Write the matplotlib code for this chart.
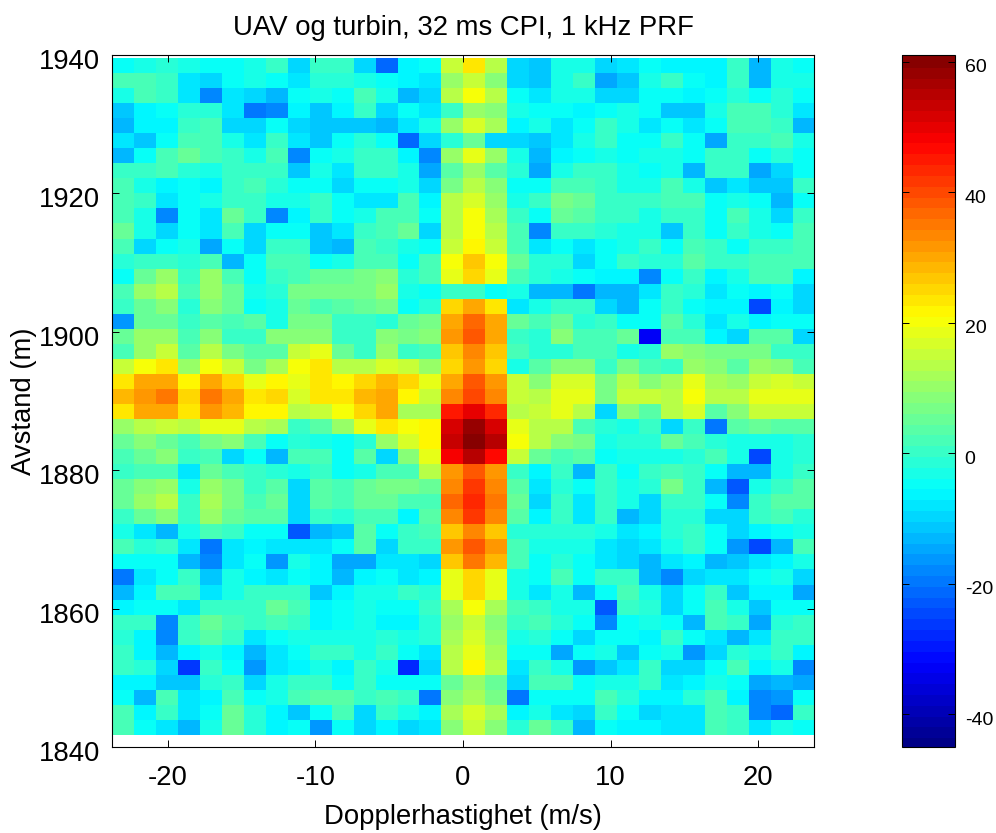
import numpy as np
import matplotlib
matplotlib.use("Agg")
import matplotlib.pyplot as plt
from matplotlib.colors import ListedColormap
from matplotlib.transforms import ScaledTranslation

plt.rcParams["font.family"] = ["Liberation Sans", "DejaVu Sans"]
plt.rcParams["axes.unicode_minus"] = False

# ---------------------------------------------
# Data (dB), top row first
# ---------------------------------------------
vel_limits = [-23.8, 23.8]
range_limits = [1841.7, 1939.4]
x_ticks = [-20, -10, 0, 10, 20]
y_ticks = [1840, 1860, 1880, 1900, 1920, 1940]
cbar_ticks = [-40, -20, 0, 20, 40, 60]

power = [
    [-4, -3, -1, -2, -4, -5, -2, 0, -10, 1, 1, -9, -21, -6, -5, 15, 24, 14, -10, -11, -2, -2, -10, -7, -5, -6, -6, -6, 1, -13, -2, -4],
    [2, 3, 0, -7, -9, -5, -2, -4, -8, -1, -1, -2, -4, -6, -7, 10, 15, 8, -10, -11, -2, 0, -15, -11, -2, 0, -4, -6, 0, -13, -3, -2],
    [-2, 2, 0, -8, -18, -7, -10, -13, -4, -2, -4, 2, -2, -13, -10, 14, 21, 14, -4, -8, -2, -2, -10, -10, -5, -5, -6, -5, -1, -4, -1, -4],
    [-11, -6, -5, -1, -1, -7, -20, -18, -6, -11, -6, 0, -9, -4, -7, 1, 11, 8, -2, -5, -5, -6, -5, -2, -5, -11, -11, -2, 3, 3, -1, -7],
    [-13, -6, -6, 0, 2, -9, -9, -5, -9, -11, -11, -11, -13, -7, -2, 10, 17, 12, -6, -2, -7, -4, 0, -2, -8, -5, -7, -5, 3, 3, 0, -13],
    [-7, -11, -4, 3, 3, -2, -8, 0, -8, -11, -5, -1, -4, -21, -9, -1, 6, -9, -9, -11, -8, -2, 1, -4, -4, 0, -4, -15, 1, 1, 3, -2],
    [-13, -5, 3, 5, 3, 1, -2, 2, -18, -5, -3, 1, 0, -6, -18, 11, 19, 11, -2, -12, -6, -4, -3, -4, -2, -2, -5, 0, 1, -4, -1, -4],
    [1, 1, 2, -1, -2, 1, 1, 1, -11, -2, -7, 0, 1, -2, -15, 4, 11, 4, -1, -15, -2, 0, 0, -2, -4, -2, -12, 0, 0, -15, -9, -5],
    [3, -2, -6, -5, -6, 1, 2, -1, -5, -5, -9, -5, -5, -2, -9, 7, 14, 8, -5, -5, 3, 3, 0, -2, -2, 2, -2, -11, -7, -11, -11, 1],
    [3, 0, -7, -5, -2, 1, 1, -3, -3, 0, -5, -7, -7, 2, -6, 13, 17, 11, -2, 0, 7, 5, 1, 1, 1, 3, 2, -5, -2, -4, -12, -5],
    [3, -2, -18, -5, -7, 6, 0, -18, -6, 0, -5, -3, 2, 2, -5, 14, 20, 12, 1, -5, 6, 4, 1, 0, -2, 1, 1, -5, 3, -2, -10, 0],
    [5, -2, -9, -5, -7, 3, -9, -5, -5, -11, -8, 0, 3, 5, -9, 14, 21, 14, 2, -18, 0, 0, -1, -2, -2, -11, 0, -5, 0, -2, -5, 3],
    [3, -9, -5, -2, -15, -5, -10, 1, 1, -11, -13, 2, 0, -2, -5, 15, 22, 15, 2, -7, -5, -7, -5, -2, 0, -5, 2, 0, -4, 0, 1, 3],
    [-1, 0, 0, -1, 3, -12, -5, 2, 2, -5, -2, 3, 2, -4, 3, 21, 27, 21, 5, -1, -1, -9, -5, 0, -1, -1, 4, 0, 0, 3, 3, 2],
    [-5, 6, 10, 0, 10, 2, -5, 1, 2, 5, 5, 7, 8, -1, 2, 19, 25, 19, 2, -1, -2, -4, -6, -6, -18, -5, 1, -6, -2, 2, 2, -6],
    [3, 10, 13, 2, 11, 6, -2, -1, 7, 7, 7, 7, 10, -2, -5, 0, 0, -5, -2, -13, -13, -20, -12, -12, -8, 0, -1, -8, -5, -6, -5, -9],
    [0, 6, 9, -1, 8, 5, -5, -3, 5, 2, 4, 5, 7, -5, -1, 25, 31, 24, -8, -2, 1, 0, -10, -12, -5, 1, -5, -6, -6, -25, -6, -10],
    [-16, 5, 5, 0, 4, 2, 4, -3, 7, 7, 1, 0, -1, 6, 7, 30, 37, 30, 5, 3, 5, -1, 1, -5, -5, 4, -1, -7, -2, -6, -5, -5],
    [5, 11, 11, 3, 8, 0, 1, 9, 8, 9, 0, 0, 9, 7, 8, 32, 38, 31, 1, -1, 8, 3, 3, 5, -32, 2, 2, -6, -9, 4, 4, -9],
    [2, 10, 15, 4, 13, 7, 4, 4, 16, 18, 5, 0, 11, 1, 3, 27, 34, 27, 2, -1, -1, 2, 2, -2, -1, 10, 8, 7, 7, 7, 0, 0],
    [15, 21, 24, 10, 21, 15, 7, 12, 21, 23, 14, 14, 17, 16, 11, 25, 32, 25, -2, 4, 8, 8, 0, 7, 2, 1, 11, 8, 4, 10, 9, 3],
    [24, 31, 31, 22, 31, 26, 19, 22, 18, 24, 22, 25, 28, 25, 19, 31, 38, 32, 15, 8, 17, 17, 7, 14, 8, 12, 18, 12, 10, 16, 17, 15],
    [28, 32, 35, 26, 35, 30, 24, 25, 17, 24, 24, 28, 31, 22, 16, 34, 40, 34, 16, 14, 19, 19, 7, 15, 15, 13, 21, 13, 13, 19, 19, 19],
    [24, 30, 30, 24, 32, 28, 22, 22, 13, 15, 20, 25, 30, 12, 12, 46, 51, 44, 13, 15, 18, 14, -9, 8, 4, 13, 17, 4, 9, 15, 15, 15],
    [11, 14, 16, 13, 18, 18, 14, 12, 1, 4, 11, 18, 23, 21, 22, 52, 59, 52, 19, 13, 13, 2, -1, -3, 0, -10, 0, -20, 4, 6, 4, 4],
    [5, 9, 6, 3, 7, 9, 3, -5, -1, -2, -4, -1, 11, 17, 22, 54, 61, 55, 21, 13, 9, 7, -2, -1, -1, 5, 2, -1, -2, -3, -3, -1],
    [2, 5, 9, 0, 3, -9, -5, -12, 2, 2, -5, 4, -9, 8, 18, 48, 55, 47, 15, 6, 3, 4, -5, -2, -3, -3, -1, 3, -2, -25, -3, -1],
    [1, 3, 3, -7, 5, 3, 1, -1, -3, 1, -5, -3, 2, 2, 13, 32, 38, 32, 1, -6, 0, -13, 0, -5, 0, 3, 1, -5, -13, -12, -2, 1],
    [6, 8, 11, -2, 11, 7, 1, 4, -10, 4, 2, 6, 7, 7, 5, 34, 42, 34, 4, -7, -1, -5, 1, -2, -1, 7, 1, -12, -23, -2, 1, 4],
    [5, 11, 13, 0, 12, 7, 3, 5, -10, 4, 3, 5, 6, 3, 2, 37, 44, 36, 6, -10, 1, -7, 1, -2, -9, 1, 0, -4, -18, 1, 4, 4],
    [1, 6, 8, 0, 10, 6, 4, 4, -9, 1, -1, 2, 2, -6, 4, 34, 42, 34, 4, -6, 0, -7, 0, -13, -9, -1, -1, -9, -9, 0, 2, -1],
    [-2, -8, -13, -2, 3, 0, -5, -5, -23, -13, -11, 4, -5, 0, 3, 27, 34, 27, -1, -1, -1, -1, -2, -8, -6, -1, 1, -5, -9, -6, -4, -2],
    [3, -1, 1, -7, -20, -7, -6, -7, -7, -7, -5, 4, -9, 0, 0, 32, 38, 32, 2, -2, -2, -2, -8, -10, -7, -2, 0, -5, -16, -25, -12, 2],
    [-5, -5, -5, -13, -17, -7, -5, -16, -2, -6, -14, -14, -8, -8, -9, 27, 36, 28, 2, -5, -1, -5, -7, -9, -12, -7, -6, -12, -11, -8, -6, -2],
    [-20, -8, -5, 0, -11, -2, -6, -7, -5, -6, -12, -6, -5, -7, -6, 18, 25, 18, -2, -5, 2, -5, 1, 1, -12, -18, -9, -7, -7, -5, -2, -9],
    [-12, -6, 2, 2, -8, -2, 0, 1, 1, -11, -6, -2, -2, 0, -1, 19, 25, 19, -2, -7, -2, -12, -5, 2, -2, -9, -5, 0, -11, -6, -6, -15],
    [-6, -5, -5, -7, 0, 0, 0, 6, 2, -6, -5, -3, -5, -5, 1, 12, 21, 12, 3, 1, -2, -2, -23, 0, -1, -9, -5, 3, -2, -11, -5, -5],
    [0, 0, -17, 1, 5, 2, 0, 3, 1, -6, -5, -3, -6, -6, -1, 10, 15, 8, 0, 2, -1, -5, -18, -5, -2, -5, -13, 3, 1, -15, -1, 1],
    [-1, -6, -18, 1, 4, 1, -8, -5, -3, -3, -3, -3, -1, -3, -1, 12, 17, 11, -3, -1, -5, -9, -5, -5, -6, 0, -5, -8, -12, -8, 1, 1],
    [1, -6, -12, -6, -2, -6, -12, -7, -5, 1, 0, -2, 1, -5, -7, 13, 19, 12, -5, -5, -14, -5, -2, -11, -5, -2, -16, -9, -1, -2, 1, -6],
    [1, -1, -10, -26, 1, -5, -16, -8, -6, -2, -6, 0, -2, -28, -9, 14, 22, 13, -8, 0, -2, -16, -11, -8, 1, -10, -10, -5, 2, -6, -2, -17],
    [-6, -6, -11, -11, -1, 1, -10, -2, 0, 1, -5, 1, -5, -5, -5, 6, 11, 6, -9, 2, 2, -5, -2, -2, 0, -8, -6, -2, -5, -15, -12, -14],
    [-5, -12, 2, -8, -6, 3, -5, -2, 2, 4, 4, 0, 2, 0, -20, 8, 12, 7, -19, -5, -5, -5, 2, -1, -6, -6, -1, 2, -6, -17, -16, -5],
    [2, -6, 0, -8, -5, 5, -1, -6, -11, -5, 2, -9, 0, -2, -6, 12, 17, 12, -6, -2, -8, -9, 0, -4, -9, -7, -7, 3, 1, -18, -21, 0],
    [2, -5, -8, -12, -2, 5, -1, -6, -5, -16, -5, -10, -6, -9, -7, 8, 15, 9, -1, 5, 1, -12, -5, -6, -6, -7, -7, 2, 1, -8, -2, -5],
]

# ---------------------------------------------
# Plot
# ---------------------------------------------
W, H = 996, 833
fig = plt.figure(figsize=(W / 100, H / 100), dpi=100)
ax = fig.add_axes([111.7 / W, 1 - 747 / H, 702.6 / W, 692 / H])
cax = fig.add_axes([902 / W, 1 - 747 / H, 53 / W, 692 / H])

# MATLAB style jet, 64 levels
t = (np.arange(64) + 0.5) / 64
cmap = ListedColormap(np.clip(np.column_stack([
    np.minimum(4 * t - 1.5, -4 * t + 4.5),
    np.minimum(4 * t - 0.5, -4 * t + 3.5),
    np.minimum(4 * t + 0.5, -4 * t + 2.5),
]), 0, 1))

im = ax.imshow(np.array(power), cmap=cmap, vmin=-45, vmax=61, aspect="auto",
               interpolation="nearest", origin="upper",
               extent=[vel_limits[0], vel_limits[1], range_limits[0], range_limits[1]])

ax.set_xlim(vel_limits)
ax.set_ylim(1840, 1940)
ax.set_xticks(x_ticks)
ax.set_yticks(y_ticks)
ax.tick_params(direction="in", top=True, right=True, length=5, width=0.7, labelsize=19.8)
ax.tick_params(axis="x", pad=13)
ax.tick_params(axis="y", pad=8.5)
ax.set_xlabel("Dopplerhastighet (m/s)", fontsize=19.8, labelpad=9.5)
ax.set_ylabel("Avstand (m)", fontsize=19.8, labelpad=1)
ax.set_title("UAV og turbin, 32 ms CPI, 1 kHz PRF", fontsize=19.8, pad=14.5)

cb = fig.colorbar(im, cax=cax)
cb.set_ticks(cbar_ticks)
cax.tick_params(direction="in", left=True, right=True, length=5, width=0.7, labelsize=14, pad=7)
cb.outline.set_linewidth(0.8)
cb.solids.set_edgecolor("face")

for spine in ax.spines.values():
    spine.set_linewidth(0.8)

# tick labels sit a little below their ticks in the original
shift = ScaledTranslation(0, -4 / 100, fig.dpi_scale_trans)
for label in ax.get_yticklabels() + cax.get_yticklabels():
    label.set_transform(label.get_transform() + shift)

plt.savefig("out.png", dpi=100)
